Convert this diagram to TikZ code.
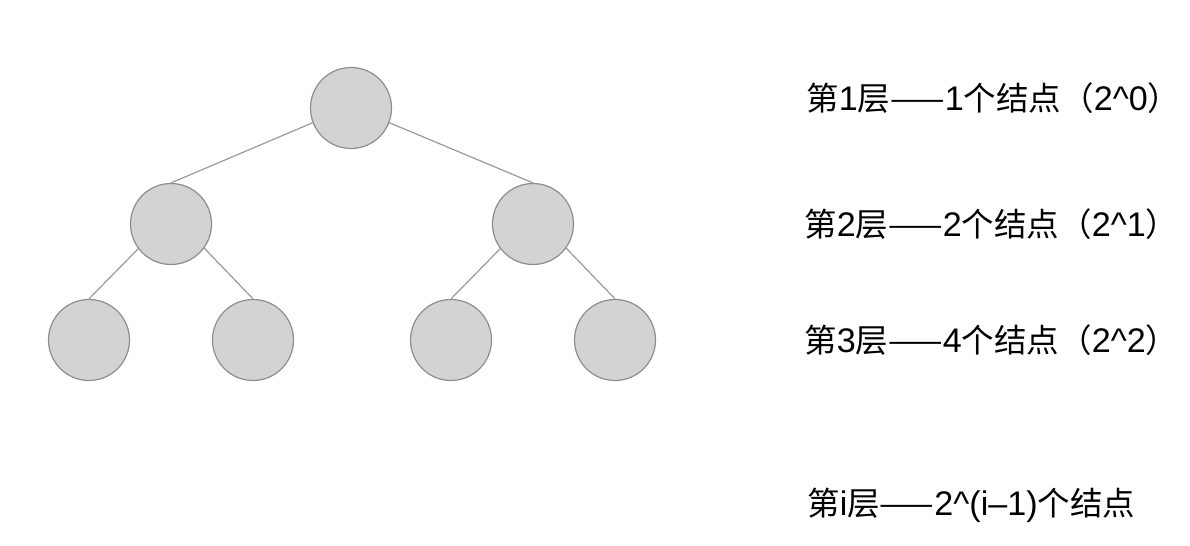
\documentclass[tikz,border=0pt]{standalone}
\usepackage{fontspec}
\setmainfont{Liberation Sans}[Scale=1.05]
\newfontfamily\cjk{Noto Sans CJK SC}
\definecolor{circgray}{HTML}{8E8E8E}
\definecolor{fillgray}{HTML}{D3D3D3}
\definecolor{edgegray}{HTML}{9A9A9A}
\begin{document}
\begin{tikzpicture}[x=0.5pt,y=-0.5pt,
  tn/.style={circle, draw=circgray, fill=fillgray, line width=0.6pt, minimum size=40.5pt, inner sep=0pt},
  edge/.style={draw=edgegray, line width=0.6pt},
  lbl/.style={anchor=base west, inner sep=0pt, font=\fontsize{16.25}{19}\selectfont}]
\useasboundingbox (0,0) rectangle (1190,546);
\node[tn] (r) at (351,108) {};
\node[tn] (a) at (171,224) {};
\node[tn] (b) at (533,224) {};
\node[tn] (a1) at (89,340) {};
\node[tn] (a2) at (253,340) {};
\node[tn] (b1) at (451,340) {};
\node[tn] (b2) at (615,340) {};
\draw[edge] (r.201.5) -- (a.north);
\draw[edge] (r.-21.5) -- (b.north);
\draw[edge] (a.217) -- (a1.north);
\draw[edge] (a.-36) -- (a2.north);
\draw[edge] (b.217) -- (b1.north);
\draw[edge] (b.-36) -- (b2.north);
\node[lbl] (t1) at (806,110) {{\cjk 第}1{\cjk 层——}1{\cjk 个结点（}2\^{}0{\cjk ）}};
\node[lbl] (t2) at (804,236) {{\cjk 第}2{\cjk 层——}2{\cjk 个结点（}2\^{}1{\cjk ）}};
\node[lbl] (t3) at (804,352) {{\cjk 第}3{\cjk 层——}4{\cjk 个结点（}2\^{}2{\cjk ）}};
\node[lbl] (t4) at (807,515) {{\cjk 第}i{\cjk 层——}2\^{}(i–1){\cjk 个结点}};
\end{tikzpicture}
\end{document}
